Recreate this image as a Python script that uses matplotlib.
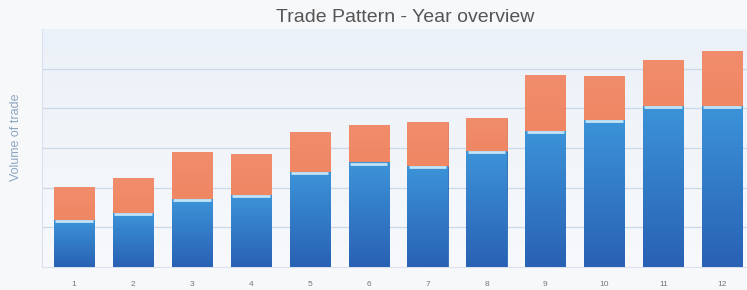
import numpy as np
import matplotlib
matplotlib.use("Agg")
import matplotlib.pyplot as plt
from matplotlib.colors import LinearSegmentedColormap

months = ["1", "2", "3", "4", "5", "6", "7", "8", "9", "10", "11", "12"]
blue_vals = [1.18, 1.36, 1.71, 1.81, 2.39, 2.64, 2.54, 2.92, 3.43, 3.70, 4.06, 4.06]
total_vals = [2.02, 2.24, 2.90, 2.85, 3.40, 3.58, 3.65, 3.75, 4.84, 4.81, 5.21, 5.44]
orange_vals = [t - b for t, b in zip(total_vals, blue_vals)]

title = "Trade Pattern - Year overview"
ylabel = "Volume of trade"

plt.rcParams['font.family'] = ['Liberation Sans', 'DejaVu Sans']

fig = plt.figure(figsize=(7.47, 2.90), dpi=100, facecolor="#f7f8fa")
ax = fig.add_axes([0.056, 0.079, 0.944, 0.821])
x = np.arange(1, len(months) + 1)

ax.set_xlim(0.457, 12.42)
ax.set_ylim(0, 6)

# plot background gradient
bg = LinearSegmentedColormap.from_list("bg", ["#f7f9fc", "#ebf1f8"])
ax.imshow(np.linspace(0, 1, 100).reshape(-1, 1), cmap=bg, aspect="auto",
          extent=[0.457, 12.42, 0, 6], origin="lower", zorder=0)

for yv in [1, 2, 3, 4, 5]:
    ax.axhline(yv, color="#cbd8e7", lw=0.9, zorder=1)

w = 0.68
blue_cmap = LinearSegmentedColormap.from_list("bl", ["#2961b4", "#3c93d8"])
orange_cmap = LinearSegmentedColormap.from_list("or", ["#ef8664", "#f18d6c"])

bb = ax.bar(x, blue_vals, width=w, color="#3380cc", edgecolor="#2a68b3", lw=0.6, zorder=2)
ob = ax.bar(x, orange_vals, width=w, bottom=blue_vals, color="#f08a68",
            edgecolor="#e07a58", lw=0.6, zorder=2)

for rect, b in zip(bb, blue_vals):
    x0 = rect.get_x()
    im = ax.imshow(np.linspace(0, 1, 100).reshape(-1, 1), cmap=blue_cmap, aspect="auto",
                   extent=[x0, x0 + w, 0, b], origin="lower", zorder=3)
    im.set_clip_path(rect)
    ax.plot([x0 + 0.02, x0 + w - 0.02], [b - 0.03, b - 0.03], color="#c2e4f6", lw=2.0,
            solid_capstyle="butt", zorder=4)

for rect, b, o in zip(ob, blue_vals, orange_vals):
    x0 = rect.get_x()
    im = ax.imshow(np.linspace(0, 1, 100).reshape(-1, 1), cmap=orange_cmap, aspect="auto",
                   extent=[x0, x0 + w, b, b + o], origin="lower", zorder=3)
    im.set_clip_path(rect)

ax.set_xticks(x)
ax.set_xticklabels(months, fontsize=6, color="#777777")
ax.tick_params(axis="x", length=0, pad=10)
ax.set_yticks([])
for s in ["top", "right"]:
    ax.spines[s].set_visible(False)
ax.spines["left"].set_color("#d8e1ec")
ax.spines["bottom"].set_color("#d8e1ec")

fig.text(0.543, 0.938, title, ha="center", va="center", fontsize=14, color="#555555")
fig.text(0.021, 0.526, ylabel, rotation=90, ha="center", va="center", fontsize=9,
         color="#8da6c2")

fig.savefig("out.png", dpi=100, facecolor=fig.get_facecolor())
